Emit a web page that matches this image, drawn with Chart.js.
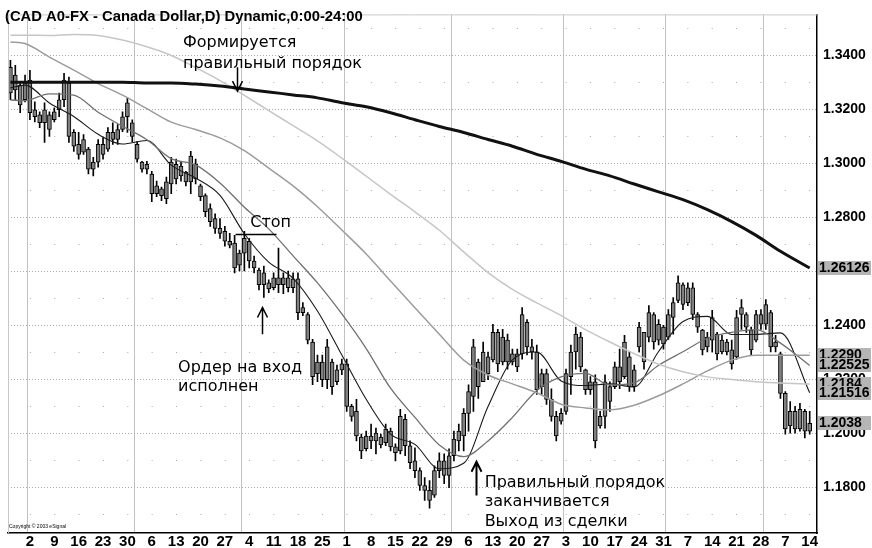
<!DOCTYPE html>
<html>
<head>
<meta charset="utf-8">
<script src="https://cdn.jsdelivr.net/npm/chart.js@4"></script>
<style>
  html, body { margin: 0; padding: 0; background: #fff; }
</style>
</head>
<body>
<canvas id="chart" width="872" height="548"></canvas>
<script>
const titleText = "(CAD A0-FX - Canada Dollar,D) Dynamic,0:00-24:00";

const months = ["Jul", "Aug", "Sep", "Oct", "Nov", "Dec", "Jan", "Feb", "Mar"];
const monthDays = [
    [27, 28, 29, 30],
    [2, 3, 4, 5, 6, 9, 10, 11, 12, 13, 16, 17, 18, 19, 20, 23, 24, 25, 26, 27, 30, 31],
    [1, 2, 3, 6, 7, 8, 9, 10, 13, 14, 15, 16, 17, 20, 21, 22, 23, 24, 27, 28, 29, 30],
    [1, 4, 5, 6, 7, 8, 11, 12, 13, 14, 15, 18, 19, 20, 21, 22, 25, 26, 27, 28, 29],
    [1, 2, 3, 4, 5, 8, 9, 10, 11, 12, 15, 16, 17, 18, 19, 22, 23, 24, 25, 26, 29, 30],
    [1, 2, 3, 6, 7, 8, 9, 10, 13, 14, 15, 16, 17, 20, 21, 22, 23, 24, 27, 28, 29, 30, 31],
    [3, 4, 5, 6, 7, 10, 11, 12, 13, 14, 17, 18, 19, 20, 21, 24, 25, 26, 27, 28, 31],
    [1, 2, 3, 4, 7, 8, 9, 10, 11, 14, 15, 16, 17, 18, 21, 22, 23, 24, 25, 28],
    [1, 2, 3, 4, 7, 8, 9, 10, 11, 14]
];

const tickLabels = ["Aug 2", "Aug 9", "Aug 16", "Aug 23", "Aug 30", "Sep 6", "Sep 13", "Sep 20", "Sep 27",
    "Oct 4", "Oct 11", "Oct 18", "Oct 25", "Nov 1", "Nov 8", "Nov 15", "Nov 22", "Nov 29",
    "Dec 6", "Dec 13", "Dec 20", "Dec 27", "Jan 3", "Jan 10", "Jan 17", "Jan 24", "Jan 31",
    "Feb 7", "Feb 14", "Feb 21", "Feb 28", "Mar 7", "Mar 14"];

const highs = [
    1.3382, 1.3363, 1.3301, 1.3327, 1.3345, 1.3228, 1.3191, 1.3225, 1.3191, 1.3206,
    1.3261, 1.3334, 1.3320, 1.3126, 1.3115, 1.3107, 1.3060, 1.3023, 1.3089, 1.3096,
    1.3133, 1.3151, 1.3144, 1.3191, 1.3243, 1.3162, 1.3081, 1.3008, 1.3008, 1.2971,
    1.2935, 1.2913, 1.2950, 1.3023, 1.3016, 1.3005, 1.2971, 1.3045, 1.3016, 1.2924,
    1.2888, 1.2851, 1.2814, 1.2796, 1.2767, 1.2741, 1.2734, 1.2679, 1.2749, 1.2723,
    1.2657, 1.2613, 1.2620, 1.2569, 1.2595, 1.2687, 1.2595, 1.2602, 1.2595, 1.2595,
    1.2485, 1.2448, 1.2349, 1.2291, 1.2291, 1.2349, 1.2276, 1.2254, 1.2276, 1.2276,
    1.2108, 1.2127, 1.1998, 1.2009, 1.2035, 1.2020, 1.1998, 1.2035, 1.2020, 1.1962,
    1.2090, 1.2071, 1.1973, 1.1947, 1.1873, 1.1837, 1.1826, 1.1881, 1.1929, 1.1925,
    1.1944, 1.2009, 1.2035, 1.2093, 1.2181, 1.2349, 1.2276, 1.2339, 1.2302, 1.2405,
    1.2386, 1.2386, 1.2368, 1.2313, 1.2313, 1.2467, 1.2422, 1.2349, 1.2328, 1.2239,
    1.2239, 1.2166, 1.2082, 1.2093, 1.2239, 1.2328, 1.2394, 1.2375, 1.2239, 1.2211,
    1.2218, 1.2082, 1.2218, 1.2192, 1.2265, 1.2313, 1.2364, 1.2302, 1.2254, 1.2412,
    1.2375, 1.2474, 1.2448, 1.2422, 1.2401, 1.2459, 1.2504, 1.2584, 1.2558, 1.2558,
    1.2558, 1.2448, 1.2386, 1.2375, 1.2456, 1.2375, 1.2364, 1.2349, 1.2346, 1.2456,
    1.2496, 1.2448, 1.2394, 1.2456, 1.2459, 1.2496, 1.2456, 1.2364, 1.2302, 1.2156,
    1.2119, 1.2101, 1.2112, 1.2090, 1.2082
];

const lows = [
    1.3236, 1.3236, 1.3188, 1.3228, 1.3162, 1.3154, 1.3133, 1.3078, 1.3100, 1.3154,
    1.3173, 1.3210, 1.3078, 1.3045, 1.3016, 1.3034, 1.2961, 1.2954, 1.2986, 1.3016,
    1.3045, 1.3071, 1.3071, 1.3118, 1.3115, 1.3081, 1.3005, 1.2968, 1.2961, 1.2859,
    1.2877, 1.2862, 1.2851, 1.2888, 1.2924, 1.2935, 1.2917, 1.2888, 1.2924, 1.2862,
    1.2803, 1.2767, 1.2741, 1.2723, 1.2694, 1.2687, 1.2595, 1.2602, 1.2602, 1.2613,
    1.2595, 1.2532, 1.2504, 1.2522, 1.2532, 1.2522, 1.2518, 1.2525, 1.2522, 1.2422,
    1.2437, 1.2332, 1.2181, 1.2192, 1.2174, 1.2166, 1.2145, 1.2181, 1.2218, 1.2082,
    1.2046, 1.1973, 1.1907, 1.1936, 1.1944, 1.1925, 1.1947, 1.1955, 1.1936, 1.1899,
    1.1925, 1.1918, 1.1870, 1.1837, 1.1790, 1.1753, 1.1724, 1.1764, 1.1837, 1.1815,
    1.1800, 1.1899, 1.1936, 1.1936, 1.2009, 1.2082, 1.2130, 1.2192, 1.2200, 1.2265,
    1.2229, 1.2254, 1.2239, 1.2254, 1.2229, 1.2276, 1.2291, 1.2276, 1.2145, 1.2145,
    1.2108, 1.2046, 1.1973, 1.2035, 1.2071, 1.2145, 1.2239, 1.2229, 1.2145, 1.2145,
    1.1947, 1.2020, 1.2020, 1.2082, 1.2166, 1.2166, 1.2203, 1.2156, 1.2156, 1.2302,
    1.2239, 1.2339, 1.2313, 1.2328, 1.2313, 1.2349, 1.2368, 1.2485, 1.2459, 1.2474,
    1.2422, 1.2375, 1.2291, 1.2302, 1.2302, 1.2273, 1.2295, 1.2291, 1.2239, 1.2276,
    1.2386, 1.2375, 1.2291, 1.2339, 1.2386, 1.2386, 1.2302, 1.2302, 1.2130, 1.1998,
    1.2002, 1.2002, 1.2009, 1.1984, 1.1998
];

const opens = [
    1.3356, 1.3272, 1.3290, 1.3236, 1.3309, 1.3199, 1.3180, 1.3151, 1.3180, 1.3162,
    1.3199, 1.3236, 1.3298, 1.3115, 1.3071, 1.3042, 1.3053, 1.2979, 1.3005, 1.3071,
    1.3053, 1.3115, 1.3089, 1.3126, 1.3173, 1.3151, 1.3071, 1.3005, 1.2979, 1.2961,
    1.2888, 1.2906, 1.2870, 1.2924, 1.2997, 1.2954, 1.2968, 1.2932, 1.2997, 1.2917,
    1.2881, 1.2833, 1.2796, 1.2760, 1.2749, 1.2712, 1.2705, 1.2624, 1.2668, 1.2712,
    1.2639, 1.2605, 1.2551, 1.2558, 1.2540, 1.2577, 1.2551, 1.2577, 1.2540, 1.2573,
    1.2467, 1.2441, 1.2339, 1.2222, 1.2265, 1.2200, 1.2265, 1.2192, 1.2236, 1.2258,
    1.2101, 1.2082, 1.1987, 1.1944, 1.1991, 1.1973, 1.1987, 1.1966, 1.2009, 1.1951,
    1.1936, 1.2053, 1.1955, 1.1899, 1.1863, 1.1808, 1.1790, 1.1772, 1.1863, 1.1899,
    1.1845, 1.1918, 1.1973, 1.1991, 1.2075, 1.2138, 1.2265, 1.2192, 1.2284, 1.2273,
    1.2375, 1.2265, 1.2346, 1.2265, 1.2295, 1.2295, 1.2412, 1.2321, 1.2302, 1.2174,
    1.2222, 1.2127, 1.2064, 1.2046, 1.2082, 1.2211, 1.2302, 1.2357, 1.2236, 1.2163,
    1.2192, 1.2028, 1.2064, 1.2174, 1.2174, 1.2247, 1.2211, 1.2284, 1.2174, 1.2321,
    1.2375, 1.2357, 1.2441, 1.2346, 1.2394, 1.2357, 1.2430, 1.2493, 1.2551, 1.2485,
    1.2540, 1.2441, 1.2383, 1.2321, 1.2346, 1.2368, 1.2302, 1.2339, 1.2310, 1.2284,
    1.2441, 1.2441, 1.2383, 1.2346, 1.2441, 1.2405, 1.2448, 1.2321, 1.2295, 1.2149,
    1.2028, 1.2082, 1.2017, 1.2082, 1.2009
];

const closes = [
    1.3261, 1.3327, 1.3217, 1.3298, 1.3188, 1.3173, 1.3151, 1.3199, 1.3126, 1.3191,
    1.3236, 1.3309, 1.3100, 1.3064, 1.3034, 1.3089, 1.2979, 1.3005, 1.3071, 1.3034,
    1.3115, 1.3089, 1.3126, 1.3173, 1.3225, 1.3100, 1.3016, 1.2979, 1.2997, 1.2888,
    1.2917, 1.2881, 1.2932, 1.3005, 1.2943, 1.2990, 1.2932, 1.3027, 1.2943, 1.2877,
    1.2822, 1.2785, 1.2760, 1.2741, 1.2712, 1.2698, 1.2613, 1.2668, 1.2723, 1.2639,
    1.2613, 1.2551, 1.2595, 1.2536, 1.2577, 1.2551, 1.2577, 1.2540, 1.2573, 1.2448,
    1.2448, 1.2346, 1.2211, 1.2265, 1.2200, 1.2321, 1.2174, 1.2236, 1.2258, 1.2101,
    1.2064, 1.1991, 1.1936, 1.1991, 1.1973, 1.2002, 1.1958, 1.2017, 1.1951, 1.1929,
    1.2064, 1.1955, 1.1892, 1.1863, 1.1808, 1.1790, 1.1753, 1.1863, 1.1899, 1.1845,
    1.1918, 1.1980, 1.2009, 1.2075, 1.2156, 1.2321, 1.2174, 1.2302, 1.2222, 1.2375,
    1.2258, 1.2357, 1.2265, 1.2295, 1.2247, 1.2441, 1.2321, 1.2302, 1.2163, 1.2222,
    1.2127, 1.2064, 1.1991, 1.2075, 1.2222, 1.2302, 1.2368, 1.2247, 1.2163, 1.2192,
    1.1973, 1.2064, 1.2192, 1.2119, 1.2247, 1.2192, 1.2339, 1.2174, 1.2236, 1.2394,
    1.2265, 1.2448, 1.2339, 1.2405, 1.2332, 1.2441, 1.2485, 1.2558, 1.2478, 1.2540,
    1.2441, 1.2394, 1.2310, 1.2357, 1.2430, 1.2295, 1.2346, 1.2302, 1.2258, 1.2430,
    1.2467, 1.2394, 1.2310, 1.2441, 1.2405, 1.2478, 1.2321, 1.2339, 1.2149, 1.2017,
    1.2082, 1.2017, 1.2090, 1.2009, 1.2038
];

// moving averages, read at these day positions
const maDays = [0, 3, 8, 13, 18, 23, 28, 33, 38, 43, 48, 53, 58, 63, 68, 73, 78, 83, 88, 93,
    98, 103, 108, 113, 118, 123, 128, 133, 138, 143, 148, 153, 158, 164];

const maSlow = [1.3301, 1.3301, 1.3301, 1.3301, 1.3301, 1.3301, 1.3298, 1.3298, 1.3294, 1.3287,
    1.3276, 1.3265, 1.3254, 1.3243, 1.3225, 1.3210, 1.3188, 1.3162, 1.3137, 1.3115,
    1.3089, 1.3064, 1.3034, 1.3008, 1.2979, 1.2954, 1.2924, 1.2895, 1.2866, 1.2829,
    1.2785, 1.2734, 1.2675, 1.2613];
const ma89 = [1.3475, 1.3475, 1.3474, 1.3478, 1.3474, 1.3457, 1.3432, 1.3400, 1.3355, 1.3307,
    1.3252, 1.3196, 1.3140, 1.3084, 1.3020, 1.2953, 1.2886, 1.2821, 1.2753, 1.2673,
    1.2596, 1.2534, 1.2484, 1.2437, 1.2385, 1.2339, 1.2296, 1.2257, 1.2229, 1.2210,
    1.2200, 1.2192, 1.2187, 1.2184];
const ma55 = [1.3450, 1.3444, 1.3394, 1.3346, 1.3296, 1.3253, 1.3203, 1.3153, 1.3126, 1.3095,
    1.3048, 1.2983, 1.2917, 1.2840, 1.2754, 1.2665, 1.2565, 1.2466, 1.2368, 1.2272,
    1.2217, 1.2184, 1.2151, 1.2109, 1.2095, 1.2088, 1.2105, 1.2140, 1.2184, 1.2232,
    1.2272, 1.2290, 1.2290, 1.2290];
const ma21 = [1.3235, 1.3233, 1.3258, 1.3253, 1.3190, 1.3138, 1.3088, 1.3018, 1.2995, 1.2928,
    1.2838, 1.2758, 1.2658, 1.2558, 1.2443, 1.2315, 1.2168, 1.2060, 1.1958, 1.1915,
    1.1973, 1.2060, 1.2160, 1.2210, 1.2223, 1.2180, 1.2188, 1.2253, 1.2303, 1.2353,
    1.2375, 1.2385, 1.2335, 1.22525];
const ma10 = [1.3280, 1.3290, 1.3224, 1.3174, 1.3108, 1.3072, 1.3085, 1.2994, 1.2946, 1.2882,
    1.2740, 1.2635, 1.2575, 1.2454, 1.2291, 1.2127, 1.1998, 1.1960, 1.1870, 1.1890,
    1.2100, 1.2273, 1.2302, 1.2195, 1.2178, 1.2184, 1.2173, 1.2304, 1.2415, 1.2434,
    1.2367, 1.2367, 1.2373, 1.21516];

const lastValueText = ["1.26126", "1.2290", "1.22525", "1.2184", "1.21516", "1.2038"];

const labels = [];
const monthStarts = new Set();
months.forEach((m, k) => {
    monthDays[k].forEach((d, j) => {
        if (j === 0 && k > 0) monthStarts.add(labels.length);
        labels.push(m + " " + d);
    });
});
labels.push("");
const tickSet = new Set(tickLabels);

function maPoints(values) {
    return values.map((v, k) => ({ x: labels[maDays[k]], y: v }));
}

const notes = [
    { lines: ["Формируется", "правильный порядок"], day: 35.4, price: 1.3448, gap: 21 },
    { lines: ["Стоп"], day: 49.2, price: 1.2781, gap: 0 },
    { lines: ["Ордер на вход", "исполнен"], day: 34.4, price: 1.2243, gap: 19 },
    { lines: ["Правильный порядок", "заканчивается", "Выход из сделки"], day: 97.3, price: 1.1819, gap: 19.5 }
];
const arrows = [
    { day: 46.5, from: 1.3356, to: 1.3268, width: 1.5 },
    { day: 51.6, from: 1.2368, to: 1.2467, width: 1.5 },
    { day: 95.5, from: 1.1771, to: 1.1896, width: 2 }
];
const stopLine = { from: 46.2, to: 54.6, price: 1.2738 };

const overlay = {
    id: "overlay",
    afterDraw(chart) {
        const { ctx, chartArea: a, scales: { x, y } } = chart;
        ctx.save();

        ctx.strokeStyle = "#c8c8c8";
        ctx.lineWidth = 1;
        ctx.beginPath();
        ctx.moveTo(a.left + 0.5, a.bottom);
        ctx.lineTo(a.left + 0.5, a.top + 0.5);
        ctx.lineTo(a.right, a.top + 0.5);
        ctx.stroke();

        ctx.fillStyle = "#000";
        ctx.textAlign = "left";
        ctx.textBaseline = "middle";
        ctx.font = "bold 14.8px 'Liberation Sans', Arial, sans-serif";
        ctx.fillText(titleText, 5, 17);

        ctx.font = "5px 'Liberation Sans', Arial, sans-serif";
        ctx.fillText("Copyright © 2003 eSignal", 9, 527);

        ctx.font = "16px 'DejaVu Sans', sans-serif";
        notes.forEach(n => {
            const px = x.getPixelForValue(n.day);
            const py = y.getPixelForValue(n.price);
            n.lines.forEach((t, k) => ctx.fillText(t, px, py + k * n.gap));
        });

        ctx.strokeStyle = "#000";
        arrows.forEach(ar => {
            const px = Math.round(x.getPixelForValue(ar.day)) + 0.5;
            const y1 = y.getPixelForValue(ar.from);
            const y2 = y.getPixelForValue(ar.to);
            const dir = y2 > y1 ? -1 : 1;
            ctx.lineWidth = ar.width;
            ctx.beginPath();
            ctx.moveTo(px, y1);
            ctx.lineTo(px, y2);
            ctx.moveTo(px - 5, y2 + dir * 10);
            ctx.lineTo(px, y2);
            ctx.lineTo(px + 5, y2 + dir * 10);
            ctx.stroke();
        });

        ctx.lineWidth = 1.5;
        ctx.beginPath();
        const sy = Math.round(y.getPixelForValue(stopLine.price)) + 0.5;
        ctx.moveTo(x.getPixelForValue(stopLine.from), sy);
        ctx.lineTo(x.getPixelForValue(stopLine.to), sy);
        ctx.stroke();

        // last-value boxes on the price axis
        const lastValues = [maSlow.at(-1), ma55.at(-1), ma21.at(-1), ma89.at(-1), ma10.at(-1), closes.at(-1)];
        ctx.font = "bold 14px 'Liberation Sans', Arial, sans-serif";
        lastValues.forEach((v, k) => {
            const py = Math.round(y.getPixelForValue(v));
            ctx.fillStyle = "#b5b5b5";
            ctx.fillRect(a.right + 1, py - 7, chart.width - a.right - 2, 14);
            ctx.fillStyle = "#000";
            ctx.fillText(lastValueText[k], a.right + 2, py + 0.5);
        });

        ctx.restore();
    }
};

const ctx = document.getElementById("chart").getContext("2d");

new Chart(ctx, {
    type: "bar",
    data: {
        labels: labels,
        datasets: [
            {
                type: "line",
                data: maPoints(maSlow),
                borderColor: "#111",
                borderWidth: 3,
                pointRadius: 0,
                cubicInterpolationMode: "monotone",
                order: 0
            },
            {
                type: "line",
                data: maPoints(ma89),
                borderColor: "#c6c6c6",
                borderWidth: 1.5,
                pointRadius: 0,
                cubicInterpolationMode: "monotone",
                order: 1
            },
            {
                type: "line",
                data: maPoints(ma55),
                borderColor: "#9c9c9c",
                borderWidth: 1.5,
                pointRadius: 0,
                cubicInterpolationMode: "monotone",
                order: 1
            },
            {
                type: "line",
                data: maPoints(ma21),
                borderColor: "#707070",
                borderWidth: 1.3,
                pointRadius: 0,
                cubicInterpolationMode: "monotone",
                order: 1
            },
            {
                type: "line",
                data: maPoints(ma10),
                borderColor: "#1a1a1a",
                borderWidth: 1.1,
                pointRadius: 0,
                cubicInterpolationMode: "monotone",
                order: 1
            },
            {
                data: highs.map((h, i) => [lows[i], h]),
                backgroundColor: "#000",
                barThickness: 1,
                grouped: false,
                order: 3
            },
            {
                data: opens.map((o, i) => [o, closes[i]]),
                backgroundColor: "#808080",
                borderColor: "#000",
                borderWidth: 1,
                borderSkipped: false,
                barThickness: 4,
                grouped: false,
                order: 2
            }
        ]
    },
    options: {
        responsive: false,
        animation: false,
        layout: { padding: { left: 8, top: 9, right: 0, bottom: 0 } },
        plugins: { legend: { display: false }, tooltip: { enabled: false } },
        scales: {
            x: {
                type: "category",
                offset: true,
                afterFit: s => { s.height = 15; },
                grid: {
                    offset: true,
                    drawTicks: false,
                    lineWidth: 1,
                    color: c => monthStarts.has(c.index) ? "#c2c2c2" : "rgba(0,0,0,0)"
                },
                border: { display: true, color: "#000", width: 1.5 },
                ticks: {
                    autoSkip: false,
                    maxRotation: 0,
                    minRotation: 0,
                    padding: 0,
                    color: "#000",
                    font: { family: "'Liberation Sans', Arial, sans-serif", weight: "bold", size: 15 },
                    callback: function (value) {
                        const lab = this.getLabelForValue(value);
                        return tickSet.has(lab) ? lab.split(" ")[1] : "";
                    }
                }
            },
            y: {
                type: "linear",
                position: "right",
                min: 1.1632,
                max: 1.3552,
                afterFit: s => { s.width = 55; },
                grid: {
                    drawTicks: false,
                    lineWidth: 1,
                    color: "#ababab"
                },
                border: {
                    display: true,
                    color: "#000",
                    width: 1.5,
                    dash: c => {
                        if (!c.tick) return [];
                        return Math.round(c.tick.value * 100) % 2 === 0 ? [1, 2] : [1, 23.35];
                    },
                    dashOffset: c => (c.tick && Math.round(c.tick.value * 100) % 2 !== 0) ? 2.45 : 0
                },
                ticks: {
                    stepSize: 0.01,
                    includeBounds: false,
                    padding: 6,
                    color: "#000",
                    font: { family: "'Liberation Sans', Arial, sans-serif", weight: "bold", size: 14 },
                    callback: v => Math.round(v * 100) % 2 === 0 ? v.toFixed(4) : ""
                }
            }
        }
    },
    plugins: [overlay]
});
</script>
</body>
</html>
